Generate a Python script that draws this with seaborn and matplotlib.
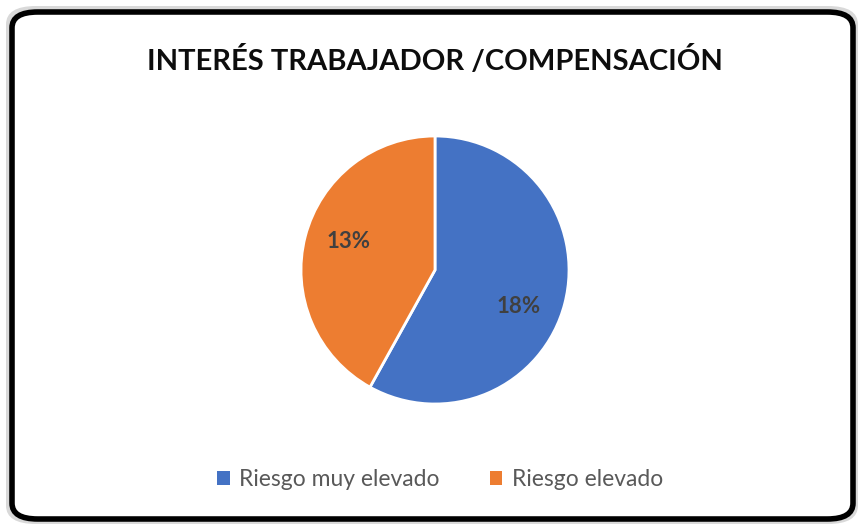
import matplotlib
matplotlib.use("Agg")
import numpy as np
import matplotlib.pyplot as plt
import seaborn as sns
from matplotlib.patches import FancyBboxPatch, Patch

# data
categories = ["Riesgo muy elevado", "Riesgo elevado"]
values = [18, 13]
colors = ["#4472C4", "#ED7D31"]
title = "INTERÉS TRABAJADOR /COMPENSACIÓN"

sns.set_theme(style="white")
plt.rcParams["font.family"] = ["Lato", "DejaVu Sans"]

W, H = 858, 527
fig = plt.figure(figsize=(W / 100, H / 100), dpi=100)
fig.patch.set_facecolor("white")

# shadow + black rounded frame around the chart area
shadow = FancyBboxPatch((6 / W, 3 / H), 852 / W, 518 / H,
                        boxstyle="round,pad=0,rounding_size=0.035",
                        transform=fig.transFigure, facecolor="#d9d9d9",
                        edgecolor="none", zorder=0)
frame = FancyBboxPatch((12 / W, 8 / H), 841 / W, 507 / H,
                       boxstyle="round,pad=0,rounding_size=0.03",
                       transform=fig.transFigure, facecolor="white",
                       edgecolor="black", linewidth=4, zorder=1)
fig.patches.extend([shadow, frame])

# pie axes: center ~(435, 270) px, radius ~134 px
cx, cy, r = 435, 270, 134
ax = fig.add_axes([(cx - r) / W, (H - cy - r) / H, 2 * r / W, 2 * r / H])
ax.set_zorder(2)
wedges, texts = ax.pie(values, colors=colors, startangle=90, counterclock=False,
                       radius=1, wedgeprops=dict(edgecolor="white", linewidth=2))
# excel "best fit" puts the labels a little off the mid angle
offsets = [-9, -4]
for w, v, off in zip(wedges, values, offsets):
    ang = np.deg2rad((w.theta1 + w.theta2) / 2 + off)
    ax.text(0.68 * np.cos(ang), 0.68 * np.sin(ang), f"{v}%", ha="center", va="center",
            fontsize=16, fontweight="bold", color="#404040")
ax.set_xlim(-1, 1)
ax.set_ylim(-1, 1)
ax.set_aspect("equal")
ax.axis("off")

fig.text(cx / W, 1 - 60 / H, title, ha="center", va="center",
         fontsize=21, fontweight="bold", color="#0d0d0d", zorder=3)

handles = [Patch(facecolor=c, edgecolor="none") for c in colors]
leg = fig.legend(handles, categories, loc="center", bbox_to_anchor=(440 / W, 1 - 480 / H),
                 ncol=2, frameon=False, fontsize=16.5, handlelength=0.55, handleheight=0.55,
                 handletextpad=0.4, columnspacing=2.2)
for t in leg.get_texts():
    t.set_color("#595959")

fig.savefig("out.png", dpi=100)
